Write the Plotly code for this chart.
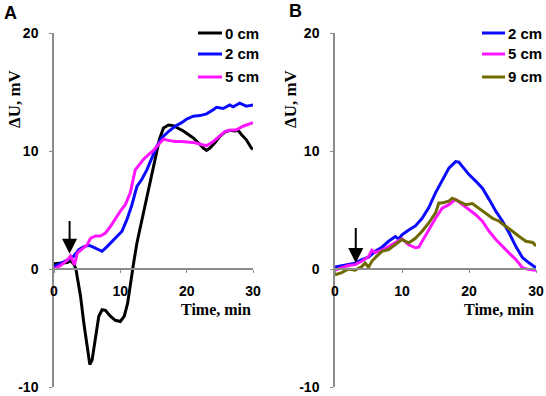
import plotly.graph_objects as go

W, H = 546, 396

# ---------------- Data: panel A ----------------
a_t_0cm = [0, 1, 2, 2.5, 3, 3.3, 4, 4.5, 5, 5.4, 5.75, 6.25, 6.75, 7.25, 7.75, 8.5, 9.25, 10,
           10.6, 11.1, 11.6, 12, 12.5, 13.1, 13.75, 14.5, 15.25, 15.9, 16.5, 17.25, 18, 18.75,
           19.5, 20.25, 21, 21.75, 22.5, 23, 23.5, 24.25, 25, 25.75, 26.5, 27.25, 27.75, 28.25,
           29, 29.75, 30]
a_v_0cm = [0.45, 0.5, 0.55, 0.7, 0.4, 0, -2.3, -4.6, -6.8, -8.1, -7.7, -5.7, -4.0, -3.45, -3.5,
           -4.0, -4.35, -4.45, -4.0, -2.9, -0.9, 0.5, 2.2, 3.75, 5.3, 7.3, 9.3, 11.0, 11.95, 12.2,
           12.15, 11.95, 11.7, 11.4, 11.1, 10.7, 10.25, 10.05, 10.25, 10.7, 11.25, 11.6, 11.75,
           11.7, 11.75, 11.4, 10.95, 10.25, 10.15]

a_t_2cm = [0, 1, 2, 3, 3.75, 4.5, 5.25, 5.75, 6.5, 7.25, 8, 8.75, 9.5, 10.25, 11, 11.75, 12.5,
           13.25, 14, 14.75, 15.5, 16.25, 17.25, 18.25, 19.25, 20, 20.5, 21, 22, 23, 24, 24.5,
           25.5, 26.5, 27, 28, 29, 30]
a_v_2cm = [0.2, 0.45, 0.75, 1.1, 1.65, 1.9, 2.0, 1.9, 1.7, 1.5, 1.9, 2.35, 2.75, 3.2, 4.2, 5.45,
           7.0, 7.6, 8.4, 9.4, 10.4, 11.1, 11.65, 12.1, 12.4, 12.7, 12.85, 12.95, 13.0, 13.15,
           13.5, 13.7, 13.6, 13.9, 13.75, 14.05, 13.8, 13.9]

a_t_5cm = [0, 1, 2, 2.5, 3.1, 3.5, 4.25, 5, 5.5, 6.25, 7, 7.75, 8.5, 9.25, 10, 10.75, 11.5,
           12.25, 12.75, 13.5, 14.25, 15, 15.75, 16.5, 17.25, 18.25, 19.25, 20.25, 21.25, 22.25,
           23, 24, 25, 25.75, 26.5, 27.5, 28.5, 29.5, 30]
a_v_5cm = [0.0, 0.3, 0.75, 1.1, 0.35, 1.35, 1.7, 2.05, 2.6, 2.8, 2.8, 3.05, 3.6, 4.3, 4.9, 5.45,
           6.45, 8.4, 8.75, 9.3, 9.7, 10.05, 10.55, 11.0, 10.9, 10.8, 10.8, 10.75, 10.7, 10.55,
           10.45, 10.8, 11.25, 11.65, 11.75, 11.8, 12.1, 12.3, 12.4]

# ---------------- Data: panel B ----------------
b_t_2cm = [0, 1, 2, 3, 4, 5, 6, 7, 8, 9, 9.5, 10, 11, 12, 13, 14, 15, 16, 17, 18, 18.5, 19,
           20, 21, 22, 23, 24, 25, 26, 27, 28, 29, 30]
b_v_2cm = [0.17, 0.28, 0.37, 0.5, 0.8, 1.0, 1.5, 1.85, 2.35, 2.75, 2.55, 2.9, 3.3, 3.65, 4.3,
           5.2, 6.45, 7.55, 8.55, 9.1, 9.05, 8.7, 8.0, 7.45, 6.85, 5.9, 4.9, 4.05, 3.05, 1.9,
           0.95, 0.5, 0.1]

b_t_5cm = [0, 1, 2, 3, 4, 5, 5.5, 6, 7, 8, 9, 10, 11, 12, 12.5, 13, 14, 15, 16, 17, 18, 19,
           20, 21, 22, 23, 24, 25, 26, 27, 28, 29, 30]
b_v_5cm = [-0.1, 0.1, 0.3, 0.37, 0.65, 1.05, 1.6, 1.4, 1.6, 1.9, 2.2, 2.55, 2.05, 1.8, 1.85,
           2.35, 3.35, 4.3, 5.15, 5.45, 5.9, 5.45, 5.05, 4.6, 4.05, 3.2, 2.5, 1.9, 1.35, 0.8,
           0.1, -0.05, -0.1]

b_t_9cm = [0, 1, 2, 3, 4, 4.5, 5, 5.5, 6, 7, 8, 9, 10, 11, 12, 13, 14, 15, 15.5, 16, 17, 17.5,
           18.5, 19.5, 20.5, 21.5, 22.5, 23.5, 24.5, 25.5, 26.5, 27.5, 28.5, 29.5, 30]
b_v_9cm = [-0.5, -0.3, 0.0, -0.1, 0.2, 0.5, 0.15, 0.65, 0.95, 1.5, 1.65, 2.05, 2.5, 2.2, 2.6,
           3.2, 3.9, 4.75, 5.6, 5.6, 5.75, 6.0, 5.75, 5.45, 5.55, 5.15, 4.75, 4.3, 4.05, 3.6,
           3.2, 2.75, 2.35, 2.25, 1.95]

x_ticks = [0, 10, 20, 30]
x_tick_labels = ["0", "10", "20", "30"]
y_ticks = [-10, 0, 10, 20]
y_tick_labels = ["-10", "0", "10", "20"]
x_range = [0, 30]
y_range = [-10, 20]

legend_a = ["0 cm", "2 cm", "5 cm"]
legend_b = ["2 cm", "5 cm", "9 cm"]

# stimulus arrows: (time, top value, tip value)
a_arrow = (2.35, 4.2, 1.3)
b_arrow = (3.1, 3.6, 0.5)

COL_BLACK = "#000000"
COL_BLUE = "#0a0aff"
COL_MAG = "#ff14ff"
COL_OLIVE = "#6e6a00"
LW = 3

SANS = "Liberation Sans"
SERIF = "Liberation Serif"


def px_x(p):
    return p / W


def px_y(p):
    return 1 - p / H


yd = [px_y(387), px_y(33)]
xdA = [px_x(54), px_x(253)]
xdB = [px_x(335), px_x(536)]
# x axis crosses y = 0
x_pos = yd[0] + (0 - y_range[0]) / (y_range[1] - y_range[0]) * (yd[1] - yd[0])

fig = go.Figure()

colors_a = [COL_BLACK, COL_BLUE, COL_MAG]
colors_b = [COL_BLUE, COL_MAG, COL_OLIVE]

for t, v, name, col in zip([a_t_0cm, a_t_2cm, a_t_5cm], [a_v_0cm, a_v_2cm, a_v_5cm],
                           legend_a, colors_a):
    fig.add_trace(go.Scatter(x=t, y=v, name=name, mode="lines",
                             line=dict(color=col, width=LW),
                             xaxis="x", yaxis="y", showlegend=False))

for t, v, name, col in zip([b_t_2cm, b_t_5cm, b_t_9cm], [b_v_2cm, b_v_5cm, b_v_9cm],
                           legend_b, colors_b):
    fig.add_trace(go.Scatter(x=t, y=v, name=name, mode="lines",
                             line=dict(color=col, width=LW),
                             xaxis="x2", yaxis="y2", showlegend=False))

tickfont = dict(family=SANS, size=14, color="black", weight="bold")
axcol = "#8c8c8c"

xcommon = dict(range=x_range, tickvals=x_ticks, ticktext=x_tick_labels, showgrid=False,
               zeroline=False, showline=True, linecolor=axcol, linewidth=1.5,
               ticks="outside", ticklen=3, tickcolor=axcol, tickfont=tickfont,
               anchor="free", position=x_pos, ticklabelstandoff=6)
ycommon = dict(range=y_range, tickvals=y_ticks, ticktext=y_tick_labels, showgrid=False,
               zeroline=False, showline=True, linecolor=axcol, linewidth=1.5,
               ticks="outside", ticklen=3, tickcolor=axcol, tickfont=tickfont, domain=yd,
               ticklabelstandoff=8)

fig.update_layout(
    width=W, height=H,
    margin=dict(l=0, r=0, t=0, b=0, autoexpand=False),
    paper_bgcolor="white", plot_bgcolor="white",
    xaxis=dict(domain=xdA, **xcommon),
    yaxis=dict(anchor="x", **ycommon),
    xaxis2=dict(domain=xdB, **xcommon),
    yaxis2=dict(anchor="x2", **ycommon),
    showlegend=False,
)

ann = []
shapes = []
# axis titles
for xr in ["x domain", "x2 domain"]:
    ann.append(dict(text="Time, min", xref=xr, x=1.0, xanchor="right",
                    yref="paper", y=px_y(309), yanchor="middle", showarrow=False,
                    font=dict(family=SERIF, size=16, color="black", weight="bold")))
for xp in [14, 290]:
    ann.append(dict(text="ΔU, mV", xref="paper", x=px_x(xp), xanchor="center",
                    yref="paper", y=px_y(99), yanchor="middle", textangle=-90,
                    showarrow=False,
                    font=dict(family=SERIF, size=17, color="black", weight="bold")))
# panel letters
ann.append(dict(text="A", xref="paper", x=px_x(2), xanchor="left", yref="paper",
                y=px_y(13.5), yanchor="middle", showarrow=False,
                font=dict(family=SANS, size=18, color="black", weight="bold")))
ann.append(dict(text="B", xref="paper", x=px_x(287), xanchor="left", yref="paper",
                y=px_y(11), yanchor="middle", showarrow=False,
                font=dict(family=SANS, size=18, color="black", weight="bold")))
# arrows
for (t, top, tip), xr, yr in [(a_arrow, "x", "y"), (b_arrow, "x2", "y2")]:
    ann.append(dict(x=t, y=tip, xref=xr, yref=yr, ax=t, ay=top, axref=xr, ayref=yr,
                    showarrow=True, arrowhead=2, arrowsize=1.5, arrowwidth=2,
                    arrowcolor="black", text=""))

# legends (drawn manually so they sit exactly where the reference has them)
legfont = dict(family=SANS, size=15, color="black", weight="bold")
row_y = [33, 54, 77]
for names, cols, x0, x1 in [(legend_a, colors_a, 198, 222), (legend_b, colors_b, 482, 505)]:
    for name, col, ry in zip(names, cols, row_y):
        shapes.append(dict(type="line", xref="paper", yref="paper",
                           x0=px_x(x0), x1=px_x(x1), y0=px_y(ry), y1=px_y(ry),
                           line=dict(color=col, width=LW)))
        ann.append(dict(text=name, xref="paper", x=px_x(x1 + 1), xanchor="left",
                        yref="paper", y=px_y(ry), yanchor="middle", showarrow=False,
                        font=legfont))

fig.update_layout(annotations=ann, shapes=shapes)

fig.write_html(
    "out.html",
    config={"displayModeBar": False},
    post_script="document.body.style.margin='0';document.body.style.padding='0';"
                "document.body.style.overflow='hidden';",
)
